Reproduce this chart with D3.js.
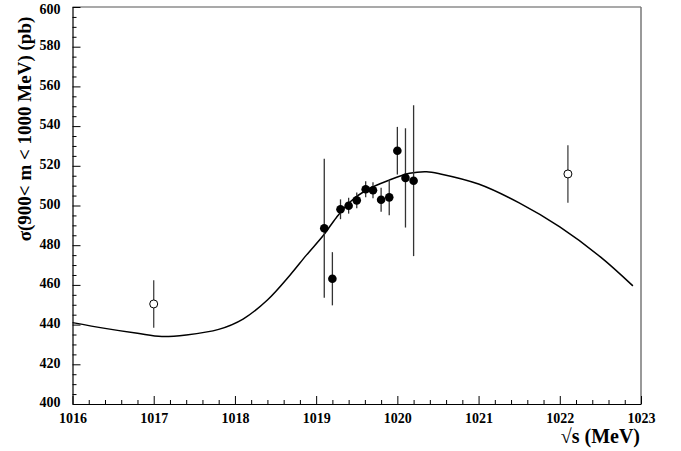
<!DOCTYPE html>
<html>
<head>
<meta charset="utf-8">
<script src="https://cdn.jsdelivr.net/npm/d3@7"></script>
<style>
  body { margin: 0; background: #fff; }
  svg { display: block; }
</style>
</head>
<body>
<svg id="chart" width="681" height="451"></svg>
<script>
// filled points: energy (MeV), cross section (pb), error (pb)
const energies = [1019.10, 1019.20, 1019.30, 1019.40, 1019.50, 1019.61, 1019.70, 1019.80, 1019.90, 1020.00, 1020.10, 1020.20];
const sigma    = [488.5, 463.1, 498.1, 499.9, 502.6, 508.2, 507.7, 502.9, 504.1, 527.6, 513.9, 512.5];
const sigmaErr = [35, 13.4, 5, 4, 4, 4, 4, 6, 9, 12, 25, 38];

// open points
const openEnergies = [1017.0, 1022.1];
const openSigma    = [450.4, 515.9];
const openErr      = [12, 14.5];

// fitted curve
const curveE = [1016.0, 1016.4, 1016.8, 1017.1, 1017.4, 1017.8, 1018.1, 1018.4, 1018.68, 1018.88, 1019.09, 1019.25, 1019.42, 1019.62, 1019.9, 1020.15, 1020.36, 1020.53, 1021.0, 1021.5, 1022.0, 1022.5, 1022.9];
const curveS = [441.0, 438.1, 435.6, 434.0, 434.8, 437.6, 442.8, 452.4, 465.0, 475.0, 485.0, 494.0, 501.9, 507.8, 512.8, 516.2, 517.0, 515.9, 510.8, 501.3, 489.2, 474.1, 459.5];

const xTicks = [1016, 1017, 1018, 1019, 1020, 1021, 1022, 1023];
const yTicks = [400, 420, 440, 460, 480, 500, 520, 540, 560, 580, 600];

const serif = '"Liberation Serif", "Times New Roman", Times, serif';
const svg = d3.select('#chart');
const plotL = 72.5, plotR = 641, plotT = 7, plotB = 404;

const x = d3.scaleLinear().domain([1016, 1023]).range([plotL, plotR]);
const y = d3.scaleLinear().domain([400, 600]).range([plotB, plotT]);

// frame (top and right in grey)
svg.append('line').attr('x1', plotL).attr('x2', plotR).attr('y1', plotT).attr('y2', plotT)
  .attr('stroke', '#555').attr('stroke-width', 1.2);
svg.append('line').attr('x1', plotR).attr('x2', plotR).attr('y1', plotT).attr('y2', plotB)
  .attr('stroke', '#777').attr('stroke-width', 1.5);

// minor ticks
const xMinor = d3.range(1016, 1023.001, 0.2).filter(v => Math.abs(v - Math.round(v)) > 0.01);
const yMinor = d3.range(400, 600.001, 5).filter(v => v % 20 !== 0);

svg.append('g').attr('transform', `translate(0,${plotB})`)
  .call(d3.axisBottom(x).tickValues(xMinor).tickSize(-4).tickFormat(''))
  .call(g => g.select('.domain').remove());
svg.append('g').attr('transform', `translate(${plotL},0)`)
  .call(d3.axisLeft(y).tickValues(yMinor).tickSize(-4).tickFormat(''))
  .call(g => g.select('.domain').remove());

// major axes
const styleText = g => g.selectAll('.tick text')
  .attr('font-family', serif).attr('font-weight', 'bold').attr('font-size', 14).attr('fill', '#000');

svg.append('g').attr('transform', `translate(0,${plotB})`)
  .call(d3.axisBottom(x).tickValues(xTicks).tickSizeInner(-8).tickSizeOuter(0).tickPadding(6).tickFormat(d3.format('d')))
  .call(g => g.select('.domain').attr('stroke-width', 1.2))
  .call(styleText)
  .call(g => g.selectAll('.tick text').attr('dy', '0.9em'));
svg.append('g').attr('transform', `translate(${plotL},0)`)
  .call(d3.axisLeft(y).tickValues(yTicks).tickSizeInner(-8).tickSizeOuter(0).tickPadding(12).tickFormat(d3.format('d')))
  .call(g => g.select('.domain').attr('stroke-width', 1.2))
  .call(styleText)
  .call(g => g.selectAll('.tick text').attr('dy', d => d === 600 ? '0.45em' : '0.2em'));

// curve
const line = d3.line().x((d, i) => x(curveE[i])).y((d, i) => y(curveS[i])).curve(d3.curveCatmullRom.alpha(0.5));
svg.append('path').datum(curveE).attr('d', line)
  .attr('fill', 'none').attr('stroke', '#000').attr('stroke-width', 1.5);

// error bars
svg.append('g').selectAll('line').data(energies).join('line')
  .attr('x1', d => x(d)).attr('x2', d => x(d))
  .attr('y1', (d, i) => y(sigma[i] - sigmaErr[i]))
  .attr('y2', (d, i) => y(sigma[i] + sigmaErr[i]))
  .attr('stroke', '#333').attr('stroke-width', 1.3);
svg.append('g').selectAll('line').data(openEnergies).join('line')
  .attr('x1', d => x(d)).attr('x2', d => x(d))
  .attr('y1', (d, i) => y(openSigma[i] - openErr[i]))
  .attr('y2', (d, i) => y(openSigma[i] + openErr[i]))
  .attr('stroke', '#444').attr('stroke-width', 1.3);

// markers
svg.append('g').selectAll('circle').data(energies).join('circle')
  .attr('cx', d => x(d)).attr('cy', (d, i) => y(sigma[i])).attr('r', 4.3)
  .attr('fill', '#000');
svg.append('g').selectAll('circle').data(openEnergies).join('circle')
  .attr('cx', d => x(d)).attr('cy', (d, i) => y(openSigma[i])).attr('r', 4)
  .attr('fill', '#fff').attr('stroke', '#000').attr('stroke-width', 1);

// axis titles
svg.append('text').attr('x', 640).attr('y', 443).attr('text-anchor', 'end')
  .attr('font-family', serif).attr('font-weight', 'bold').attr('font-size', 20)
  .text('√s (MeV)');
svg.append('text').attr('transform', 'translate(31,129) rotate(-90)').attr('text-anchor', 'middle')
  .attr('font-family', serif).attr('font-weight', 'bold').attr('font-size', 19)
  .text('σ(900< m < 1000 MeV) (pb)');
</script>
</body>
</html>
